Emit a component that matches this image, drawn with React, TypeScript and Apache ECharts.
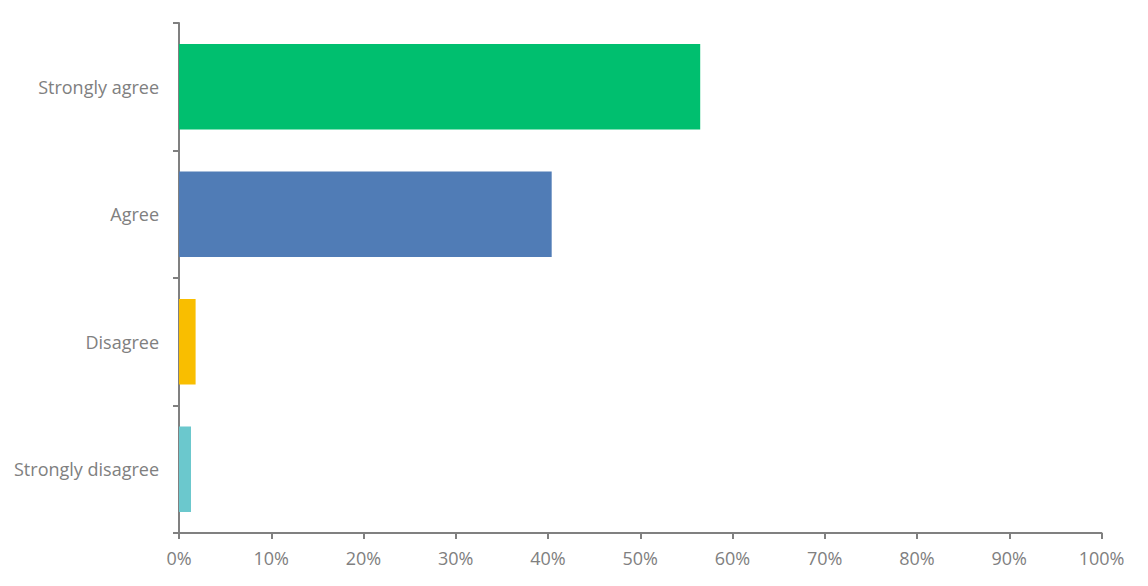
import React, { useEffect, useRef } from "react";
import * as echarts from "echarts";

const categories = ["Strongly agree", "Agree", "Disagree", "Strongly disagree"];
const values = [56.5, 40.4, 1.8, 1.3];
const colors = ["#00BF6F", "#507CB6", "#F9BE00", "#6BC8CD"];
const xTicks = [0, 10, 20, 30, 40, 50, 60, 70, 80, 90, 100];

export default function App() {
  const ref = useRef<HTMLDivElement>(null);
  useEffect(() => {
    if (!ref.current) return;
    const chart = echarts.init(ref.current, null, { renderer: "svg" });
    const axisColor = "#808080";
    const font = "'Open Sans', 'Noto Sans', sans-serif";
    chart.setOption({
      animation: false,
      grid: { left: 179, right: 46.5, top: 23, bottom: 53, containLabel: false },
      xAxis: {
        type: "value",
        min: xTicks[0],
        max: xTicks[xTicks.length - 1],
        interval: 10,
        axisLine: { show: true, lineStyle: { color: axisColor, width: 2 } },
        axisTick: { show: true, length: 6, lineStyle: { color: axisColor, width: 2 } },
        splitLine: { show: false },
        axisLabel: {
          color: "#808080",
          fontSize: 18,
          fontFamily: font,
          margin: 16,
          formatter: (v: number) => `${v}%`,
        },
      },
      yAxis: {
        type: "category",
        data: categories,
        inverse: true,
        axisLine: { show: true, lineStyle: { color: axisColor, width: 2 } },
        axisTick: { show: true, length: 6, lineStyle: { color: axisColor, width: 2 } },
        axisLabel: { color: "#808080", fontSize: 18, fontFamily: font, margin: 20 },
      },
      series: [
        {
          type: "bar",
          barCategoryGap: "33%",
          data: values.map((v, i) => ({ value: v, itemStyle: { color: colors[i] } })),
        },
      ],
    });
    return () => chart.dispose();
  }, []);
  return (
    <div
      ref={ref}
      style={{ position: "fixed", left: 0, top: 0, width: 1148, height: 586, background: "#fff" }}
    />
  );
}
